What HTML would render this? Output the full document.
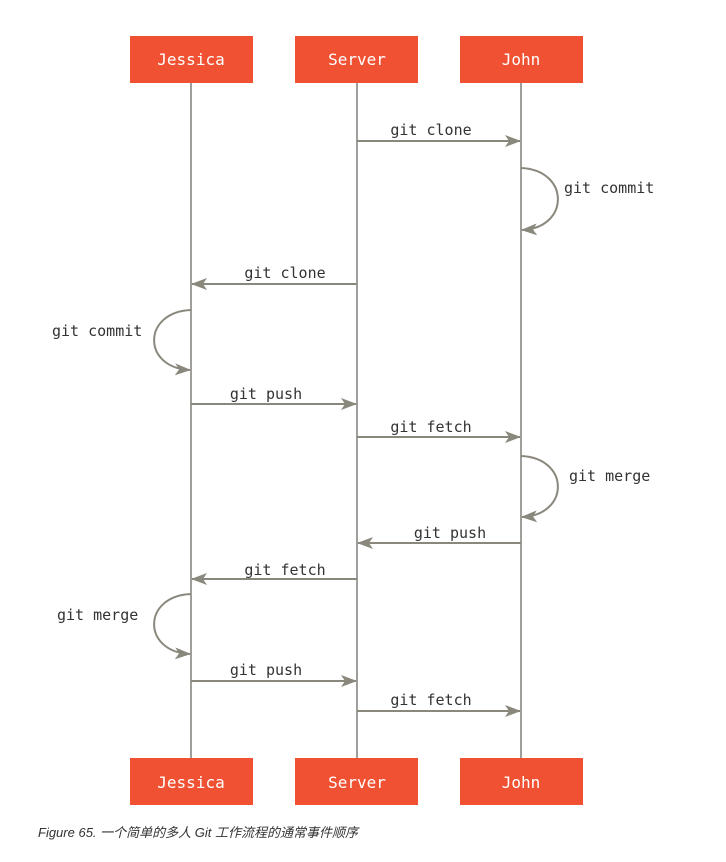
<!DOCTYPE html>
<html><head><meta charset="utf-8"><style>
body{margin:0;background:#fff;width:726px;height:862px;overflow:hidden}
svg{position:absolute;left:0;top:0}
.cap{position:absolute;left:38px;top:822px;font-family:"Liberation Sans","Noto Sans CJK SC",sans-serif;font-style:italic;font-size:13px;color:#333}
</style></head><body>
<svg width="726" height="862" xmlns="http://www.w3.org/2000/svg">
<defs><marker id="a" markerWidth="16" markerHeight="12" refX="15" refY="6" orient="auto" markerUnits="userSpaceOnUse"><path d="M0,0 L16,6 L0,12 L4,6 z" fill="#8a877c"/></marker></defs>
<g stroke="#a09e9a" stroke-width="2">
<line x1="191" y1="82" x2="191" y2="758"/><line x1="357" y1="82" x2="357" y2="758"/><line x1="521" y1="82" x2="521" y2="758"/>
</g>
<g stroke="#8a877c" stroke-width="2" fill="none" marker-end="url(#a)">
<line x1="357" y1="141" x2="520" y2="141"/>
<path d="M521,168 C570,170 570,228 522,230"/>
<line x1="357" y1="284" x2="192" y2="284"/>
<path d="M191,310 C142,312 142,368 190,370"/>
<line x1="191" y1="404" x2="356" y2="404"/>
<line x1="357" y1="437" x2="520" y2="437"/>
<path d="M521,456 C570,458 570,515 522,517"/>
<line x1="521" y1="543" x2="358" y2="543"/>
<line x1="357" y1="579" x2="192" y2="579"/>
<path d="M191,594 C142,596 142,652 190,654"/>
<line x1="191" y1="681" x2="356" y2="681"/>
<line x1="357" y1="711" x2="520" y2="711"/>
</g>
<g fill="#f05133">
<rect x="130" y="36" width="123" height="47"/><rect x="295" y="36" width="123" height="47"/><rect x="460" y="36" width="123" height="47"/>
<rect x="130" y="758" width="123" height="47"/><rect x="295" y="758" width="123" height="47"/><rect x="460" y="758" width="123" height="47"/>
</g>
<g font-family="DejaVu Sans Mono,monospace" font-size="16" fill="#fff" text-anchor="middle">
<text x="191" y="65">Jessica</text><text x="357" y="65">Server</text><text x="521" y="65">John</text>
<text x="191" y="788">Jessica</text><text x="357" y="788">Server</text><text x="521" y="788">John</text>
</g>
<g font-family="DejaVu Sans Mono,monospace" font-size="15" fill="#333">
<text x="431" y="135" text-anchor="middle">git clone</text>
<text x="564" y="193">git commit</text>
<text x="285" y="278" text-anchor="middle">git clone</text>
<text x="52" y="336">git commit</text>
<text x="266" y="399" text-anchor="middle">git push</text>
<text x="431" y="432" text-anchor="middle">git fetch</text>
<text x="569" y="481">git merge</text>
<text x="450" y="538" text-anchor="middle">git push</text>
<text x="285" y="575" text-anchor="middle">git fetch</text>
<text x="57" y="620">git merge</text>
<text x="266" y="675" text-anchor="middle">git push</text>
<text x="431" y="705" text-anchor="middle">git fetch</text>
</g>
</svg>
<div class="cap">Figure 65. 一个简单的多人 Git 工作流程的通常事件顺序</div>
</body></html>
